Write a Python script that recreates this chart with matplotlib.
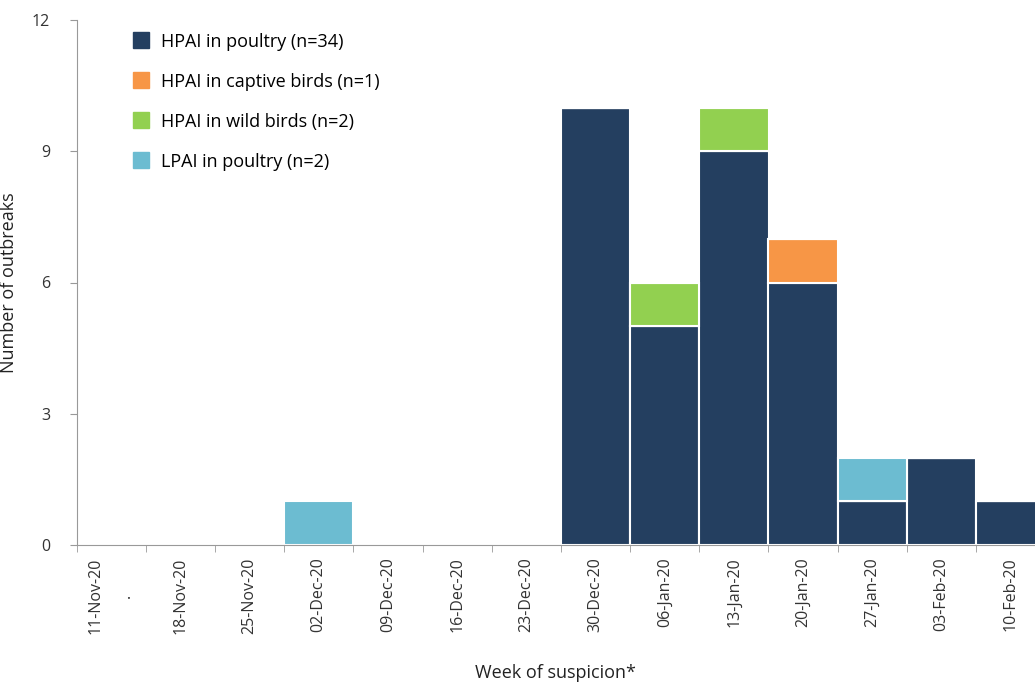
import numpy as np
import matplotlib.pyplot as plt
from matplotlib.lines import Line2D

plt.rcParams['font.family'] = ['Open Sans', 'DejaVu Sans']

weeks = ['11-Nov-20\n.', '18-Nov-20', '25-Nov-20', '02-Dec-20', '09-Dec-20', '16-Dec-20',
         '23-Dec-20', '30-Dec-20', '06-Jan-20', '13-Jan-20', '20-Jan-20', '27-Jan-20',
         '03-Feb-20', '10-Feb-20']
hpai_poultry = [0, 0, 0, 0, 0, 0, 0, 10, 5, 9, 6, 1, 2, 1]
hpai_captive = [0, 0, 0, 0, 0, 0, 0, 0, 0, 0, 1, 0, 0, 0]
hpai_wild = [0, 0, 0, 0, 0, 0, 0, 0, 1, 1, 0, 0, 0, 0]
lpai_poultry = [0, 0, 0, 1, 0, 0, 0, 0, 0, 0, 0, 1, 0, 0]

series = [
    ('HPAI in poultry (n=34)', hpai_poultry, '#243f60'),
    ('HPAI in captive birds (n=1)', hpai_captive, '#f79646'),
    ('HPAI in wild birds (n=2)', hpai_wild, '#92d050'),
    ('LPAI in poultry (n=2)', lpai_poultry, '#6cbcd1'),
]

fig = plt.figure(figsize=(10.35, 6.85), dpi=100)
ax = fig.add_axes([76.5 / 1035, 1 - 545 / 685, 14 * 69.2 / 1035, 525 / 685])

x = np.arange(len(weeks))
bottom = np.zeros(len(weeks))
handles = []
for label, vals, color in series:
    vals = np.array(vals, dtype=float)
    ax.bar(x, vals, width=1.0, bottom=bottom, color=color, edgecolor='white', linewidth=1.5)
    bottom += vals
    handles.append(Line2D([], [], marker='s', linestyle='none', markersize=11,
                          markerfacecolor=color, markeredgecolor=color, label=label))

ax.set_xlim(-0.5, len(weeks) - 0.5)
ax.set_ylim(0, 12)
ax.set_yticks([0, 3, 6, 9, 12])

ax.set_xticks(x)
ax.set_xticklabels(weeks, rotation=90, fontsize=11.5, color='#333333', linespacing=2.2)
ax.set_xticks(np.arange(-0.5, len(weeks)), minor=True)
ax.tick_params(axis='x', which='major', length=0, pad=9)
ax.tick_params(axis='x', which='minor', length=5, color='#999999')
ax.tick_params(axis='y', length=5, color='#999999', labelsize=11.5, labelcolor='#333333', pad=14)

for s in ['top', 'right']:
    ax.spines[s].set_visible(False)
for s in ['left', 'bottom']:
    ax.spines[s].set_color('#999999')

ax.set_ylabel('Number of outbreaks', fontsize=13, color='#222222')
ax.yaxis.set_label_coords(-58 / 966, 0.5)
fig.text(555 / 1035, 1 - 673 / 685, 'Week of suspicion*', fontsize=13, color='#222222',
         ha='center', va='center')

ax.legend(handles=handles, loc='upper left', bbox_to_anchor=(0.035, 1.0), frameon=False,
          fontsize=13, handletextpad=0.1, labelspacing=1.22, borderaxespad=0.3)

fig.savefig('out.png', dpi=100)
